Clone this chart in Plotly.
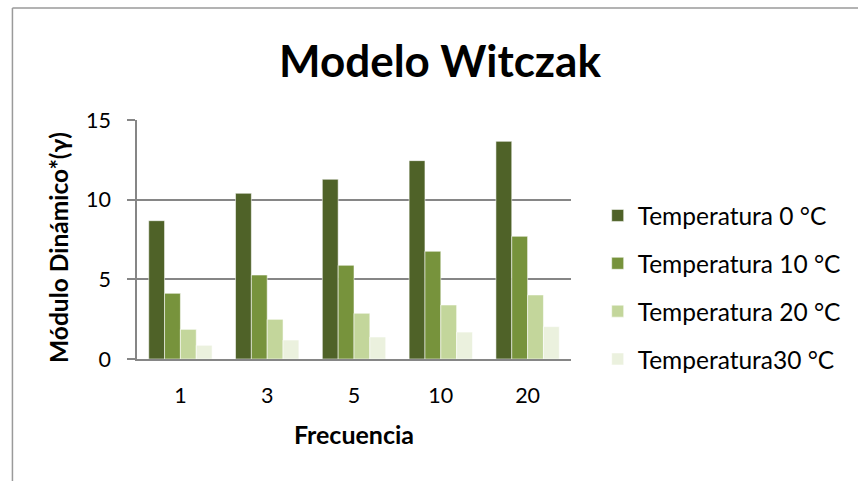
import plotly.graph_objects as go

categories = ["1", "3", "5", "10", "20"]
series_names = ["Temperatura 0 °C", "Temperatura 10 °C", "Temperatura 20 °C", "Temperatura30 °C"]
temp_0 = [8.68, 10.40, 11.28, 12.45, 13.66]
temp_10 = [4.12, 5.27, 5.88, 6.76, 7.70]
temp_20 = [1.86, 2.49, 2.87, 3.39, 4.02]
temp_30 = [0.86, 1.19, 1.38, 1.69, 2.03]
colors = ["#4F6228", "#77933C", "#C3D69B", "#EBF1DE"]

W, H = 858, 481
L, R, T, B = 137, 576, 120, 359
pw, ph = R - L, B - T

def px(x):
    return (x - L) / pw

def py(y):
    return (B - y) / ph

FONT = "Lato"
GRAY = "#868686"

fig = go.Figure()
for i, (name, vals) in enumerate(zip(series_names, [temp_0, temp_10, temp_20, temp_30])):
    fig.add_trace(go.Bar(
        x=categories, y=vals, name=name, legendgroup=f"g{i}",
        marker=dict(color=colors[i], line=dict(color="rgba(255,255,255,0.55)", width=1)),
    ))

fig.update_layout(
    width=W, height=H,
    margin=dict(l=L, r=W - R, t=T, b=H - B, pad=0),
    paper_bgcolor="white", plot_bgcolor="white",
    barmode="group", bargap=0.27, bargroupgap=0,
    font=dict(family=FONT, color="black", size=20),
    showlegend=True,
    legend=dict(
        x=px(603), y=py(193), xanchor="left", yanchor="top",
        font=dict(family=FONT, size=24.5, color="black"),
        tracegroupgap=13, bgcolor="rgba(0,0,0,0)",
    ),
    xaxis=dict(
        type="category", showline=True, linecolor=GRAY, linewidth=1.5,
        ticks="", showgrid=False, ticklabelstandoff=16,
        tickfont=dict(family=FONT, size=21.5),
        title=dict(text="<b>Frecuencia</b>", font=dict(family=FONT, size=25), standoff=20),
    ),
    yaxis=dict(
        range=[0, 15], dtick=5, showline=True, linecolor=GRAY, linewidth=1.5,
        ticks="outside", ticklen=8, tickcolor=GRAY, tickwidth=1.5,
        showgrid=True, gridcolor=GRAY, gridwidth=1.5, zeroline=False,
        ticklabelstandoff=12,
        tickfont=dict(family=FONT, size=21.5),
    ),
    annotations=[
        dict(
            text="<b>Modelo Witczak</b>", xref="paper", yref="paper",
            x=px(443), y=py(60), xanchor="center", yanchor="middle",
            showarrow=False, font=dict(family=FONT, size=44, color="black"),
        ),
        dict(
            text="<b>Módulo Dinámico*(γ)</b>", xref="paper", yref="paper",
            x=px(57), y=py(247), xanchor="center", yanchor="middle", textangle=-90,
            showarrow=False, font=dict(family=FONT, size=24.5, color="black"),
        ),
    ],
    shapes=[
        dict(type="line", xref="paper", yref="paper", x0=px(11), x1=px(11), y0=py(8), y1=py(490),
             line=dict(color="#9a9a9a", width=1.5)),
        dict(type="line", xref="paper", yref="paper", x0=px(11), x1=px(870), y0=py(8), y1=py(8),
             line=dict(color="#9a9a9a", width=1.5)),
    ],
)

fig.write_html(
    "out.html",
    config={"displayModeBar": False},
    post_script="document.body.style.margin='0';document.body.style.overflow='hidden';",
)
